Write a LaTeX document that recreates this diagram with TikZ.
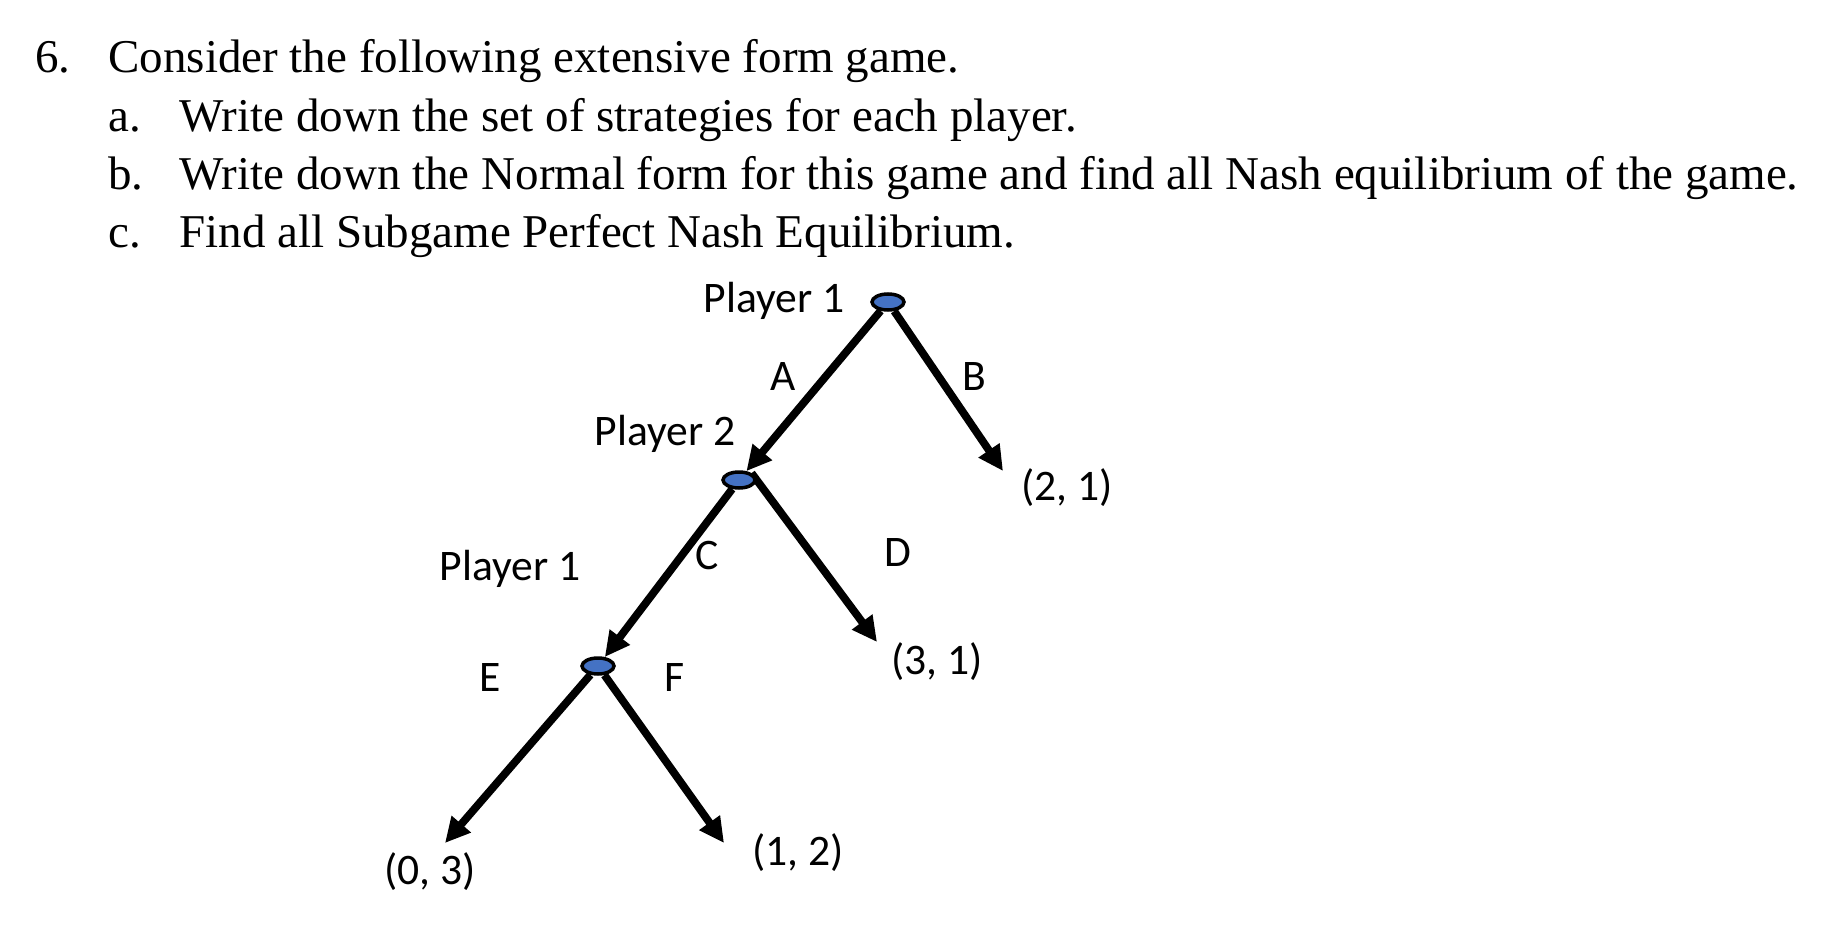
\documentclass[tikz,border=0pt]{standalone}
\usepackage{fontspec}
\setmainfont{Liberation Serif}
\newfontfamily\calibri{Carlito}
\usetikzlibrary{shapes,arrows.meta,backgrounds}
\definecolor{nodeblue}{RGB}{68,114,196}

\begin{document}
\begin{tikzpicture}[x=0.5pt,y=-0.5pt,
    move/.style={line width=3.9pt,-{Triangle[length=12.5pt,width=12pt]}},
    choice/.style={ellipse,draw=black,line width=1.75pt,fill=nodeblue,minimum width=16pt,minimum height=8pt,inner sep=0pt},
    lbl/.style={font=\calibri\fontsize{21.8}{26}\selectfont,inner sep=0pt},
    txt/.style={font=\fontsize{23.5}{28}\selectfont,anchor=base west,inner sep=0pt}]
      \useasboundingbox (0,0) rectangle (1836,952);
      % question text
      \node[txt] (q6) at (35,73) {6.};
      \node[txt] (q6t) at (108,73) {Consider the following extensive form game.};
      \node[txt] (qa) at (108,132) {a.};
      \node[txt] (qat) at (179,132) {Write down the set of strategies for each player.};
      \node[txt] (qb) at (108,190) {b.};
      \node[txt] (qbt) at (179,190) {Write down the Normal form for this game and find all Nash equilibrium of the game.};
      \node[txt] (qc) at (108,248) {c.};
      \node[txt] (qct) at (179,248) {Find all Subgame Perfect Nash Equilibrium.};
      % decision nodes
      \node[choice] (root) at (888,302) {};
      \node[choice] (p2) at (739,480) {};
      \node[choice] (p1b) at (598,666) {};
      \node[lbl,anchor=base] (root lbl) at (774,313) {Player 1};
      \node[lbl,anchor=base] (p2 lbl) at (665,445) {Player 2};
      \node[lbl,anchor=base] (p1b lbl) at (510,580) {Player 1};
      % ends of the moves
      \coordinate (endB) at (1003,471);
      \coordinate (endD) at (877,642);
      \coordinate (endE) at (445,843);
      \coordinate (endF) at (724,843);
      \begin{scope}[on background layer]
        \draw[move] (root) -- (p2);
        \draw[move] (root) -- (endB);
        \draw[move] (p2) -- (p1b);
        \draw[move] (p2.north east) -- (endD);
        \draw[move] (p1b) -- (endE);
        \draw[move] (p1b) -- (endF);
      \end{scope}
      % move labels
      \node[lbl] (mA) at (783,377) {A};
      \node[lbl] (mB) at (974,377) {B};
      \node[lbl] (mC) at (707,555) {C};
      \node[lbl] (mD) at (898,553) {D};
      \node[lbl] (mE) at (490,678) {E};
      \node[lbl] (mF) at (675,678) {F};
      % payoffs
      \node[lbl] (payB) at (1067,488) {(2, 1)};
      \node[lbl] (payD) at (937,662) {(3, 1)};
      \node[lbl] (payF) at (798,853) {(1, 2)};
      \node[lbl] (payE) at (430,872) {(0, 3)};
\end{tikzpicture}
\end{document}
